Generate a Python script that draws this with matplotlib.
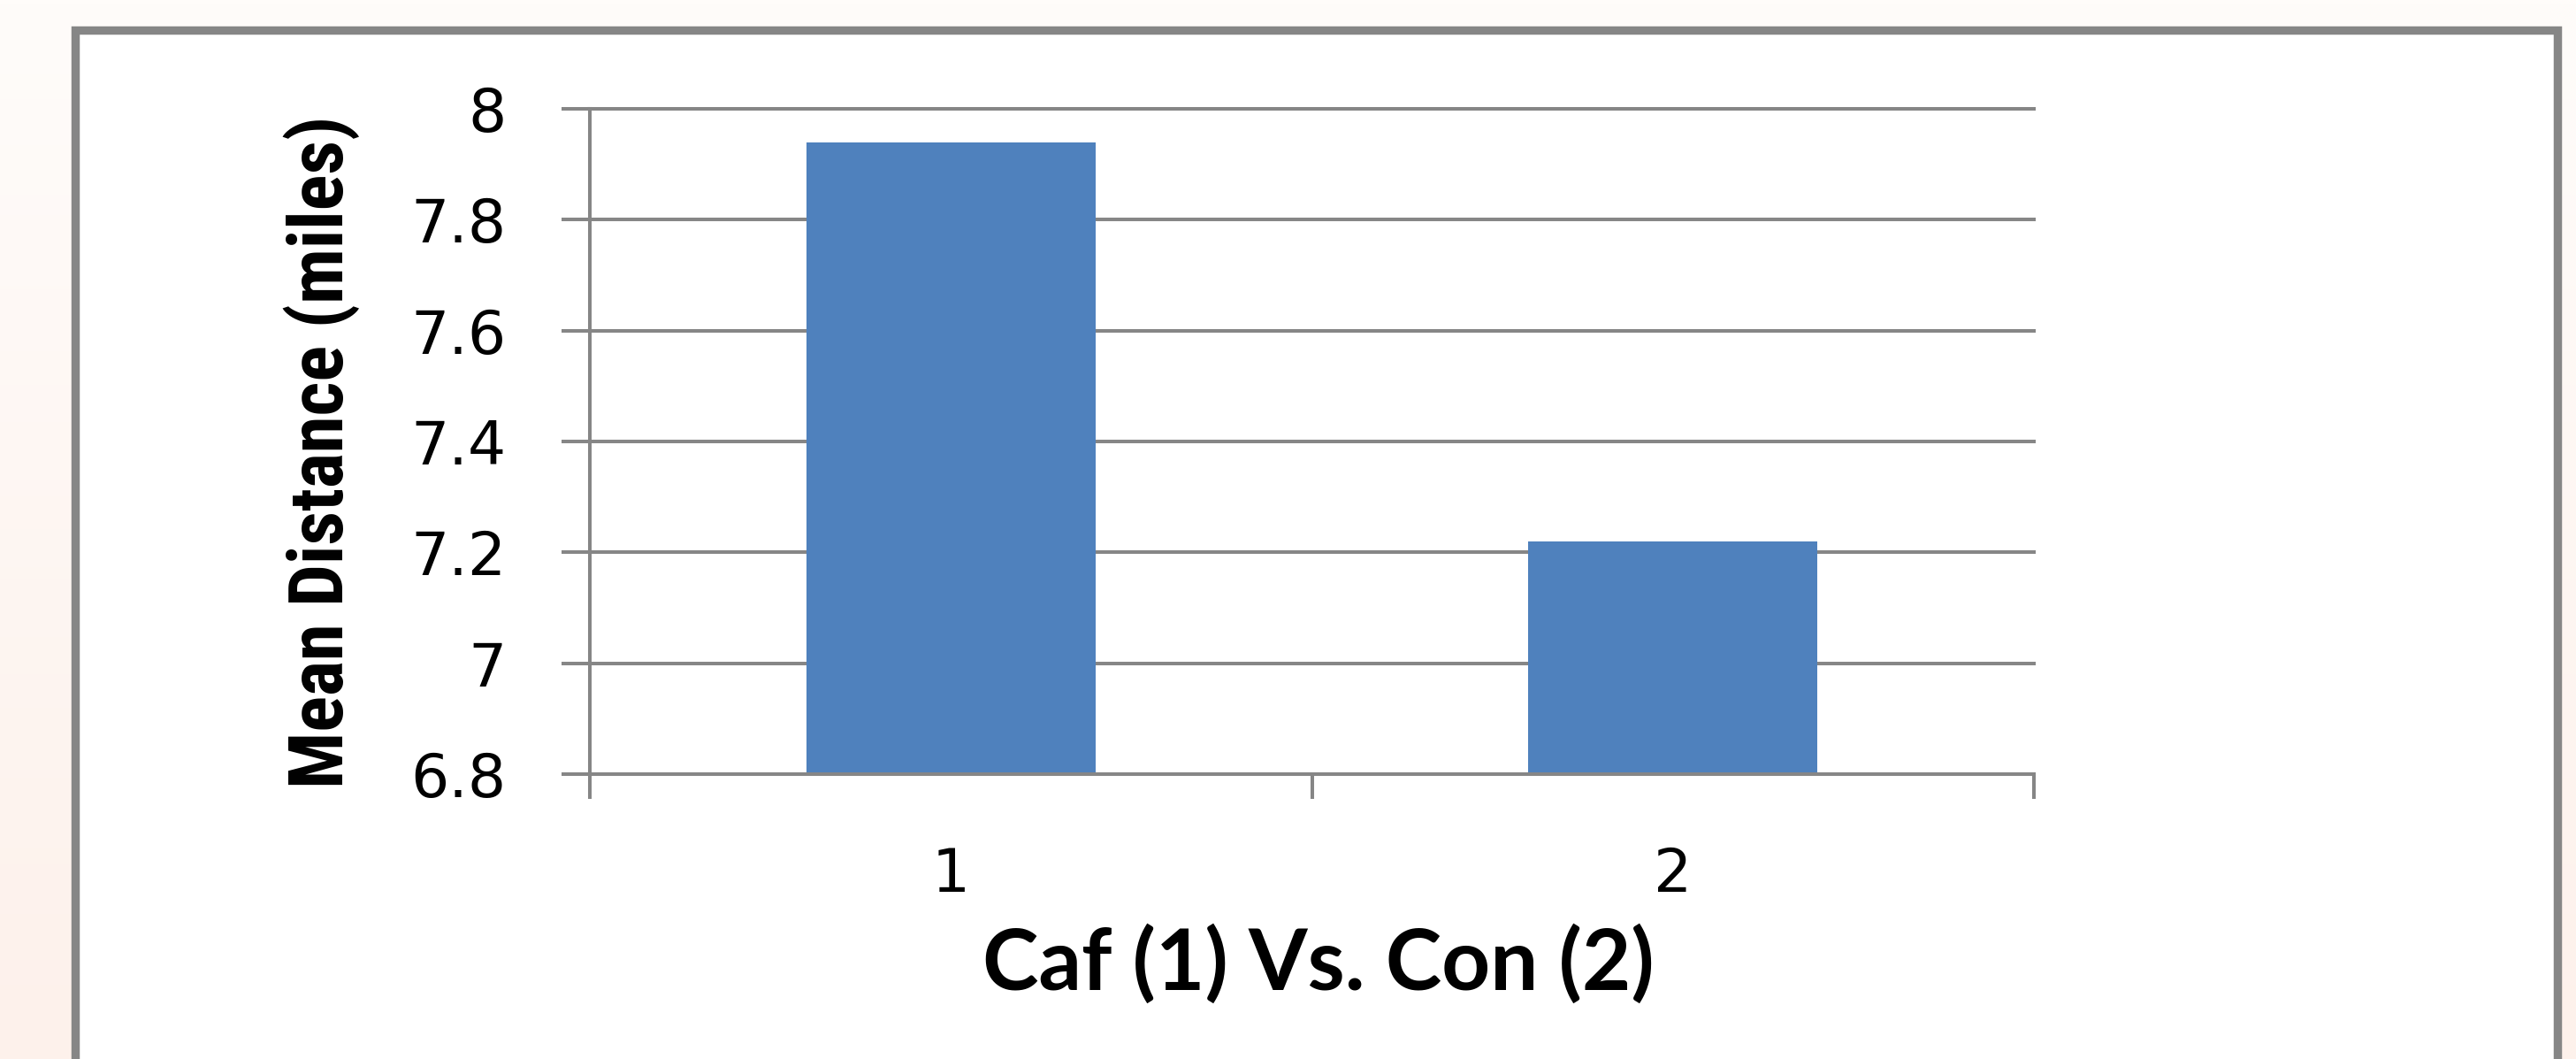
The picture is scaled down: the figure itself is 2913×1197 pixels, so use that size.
import matplotlib
matplotlib.use("Agg")
import matplotlib.pyplot as plt
import numpy as np
from matplotlib import font_manager
from matplotlib.patches import Rectangle

# Data
groups = ["1", "2"]
group_pos = [1, 2]
mean_distance = [7.94, 7.22]
y_ticks = [6.8, 7.0, 7.2, 7.4, 7.6, 7.8, 8.0]
y_tick_labels = ["6.8", "7", "7.2", "7.4", "7.6", "7.8", "8"]
x_title = "Caf (1) Vs. Con (2)"
y_title = "Mean Distance (miles)"

W, H = 2913, 1197
DPI = 100
GRID = "#868686"
BAR = "#4f81bd"


def pick_family(candidates, fallback="DejaVu Sans"):
    for fam in candidates:
        try:
            font_manager.findfont(font_manager.FontProperties(family=fam, weight="bold"),
                                  fallback_to_default=False)
            return fam
        except ValueError:
            continue
    return fallback


narrow = pick_family(["Liberation Sans Narrow", "Roboto Condensed", "Open Sans Condensed",
                      "Liberation Sans"])
humanist = pick_family(["Lato", "Open Sans", "Noto Sans"])

fig = plt.figure(figsize=(W / DPI, H / DPI), dpi=DPI)

# soft peach page background
bg = fig.add_axes([0, 0, 1, 1], zorder=-10)
top_c = np.array([255, 252, 250]) / 255
bot_c = np.array([253, 241, 235]) / 255
t = np.linspace(0, 1, 256)[:, None]
grad = top_c[None, :] * (1 - t) + bot_c[None, :] * t
bg.imshow(grad[:, None, :], aspect="auto", extent=[0, 1, 0, 1])
bg.set_axis_off()

# white chart panel with grey border
panel = Rectangle((85 / W, -0.05), (2892 - 85) / W, 1.05 - 34 / H,
                  transform=fig.transFigure, facecolor="white",
                  edgecolor=GRID, linewidth=6.8, zorder=-5)
fig.add_artist(panel)

ax = fig.add_axes([667 / W, 1 - 875 / H, (2300 - 667) / W, (875 - 123) / H], zorder=1)
ax.set_facecolor("none")
ax.bar(group_pos, mean_distance, width=0.4, color=BAR, zorder=2)
ax.set_xlim(0.5, 2.5)
ax.set_ylim(6.8, 8.0)

ax.set_yticks(y_ticks)
ax.set_yticklabels(y_tick_labels)
ax.tick_params(axis="y", which="major", direction="out", length=23, width=2.9,
               color=GRID, labelsize=49, pad=45, labelcolor="black")

ax.set_xticks([0.5, 1.5, 2.5])
ax.set_xticklabels(["", "", ""])
ax.set_xticks(group_pos, minor=True)
ax.set_xticklabels(groups, minor=True)
ax.tick_params(axis="x", which="major", direction="out", length=20, width=2.9, color=GRID)
ax.tick_params(axis="x", which="minor", length=0, labelsize=49, pad=58, labelcolor="black")

ax.set_axisbelow(True)
ax.yaxis.grid(True, color=GRID, linewidth=2.9)
for gl in ax.get_ygridlines():
    gl.set_clip_on(False)

for side in ("top", "right"):
    ax.spines[side].set_visible(False)
for side in ("left", "bottom"):
    ax.spines[side].set_color(GRID)
    ax.spines[side].set_linewidth(2.9)

ylab = fig.text(364 / W, 1 - 511 / H, y_title, rotation=90, ha="center", va="center",
                fontsize=60, fontweight="bold", family=narrow, color="black")
xlab = fig.text(1491 / W, 1 - 1090 / H, x_title, ha="center", va="center",
                fontsize=40, fontweight="bold", family=humanist, color="black")

# size the titles to their intended extents
fig.canvas.draw()
r = fig.canvas.get_renderer()
yb = ylab.get_window_extent(r)
ylab.set_fontsize(60 * 762 / yb.height)
xb = xlab.get_window_extent(r)
xlab.set_fontsize(40 * 760 / xb.width)

fig.savefig("out.png", dpi=DPI)
